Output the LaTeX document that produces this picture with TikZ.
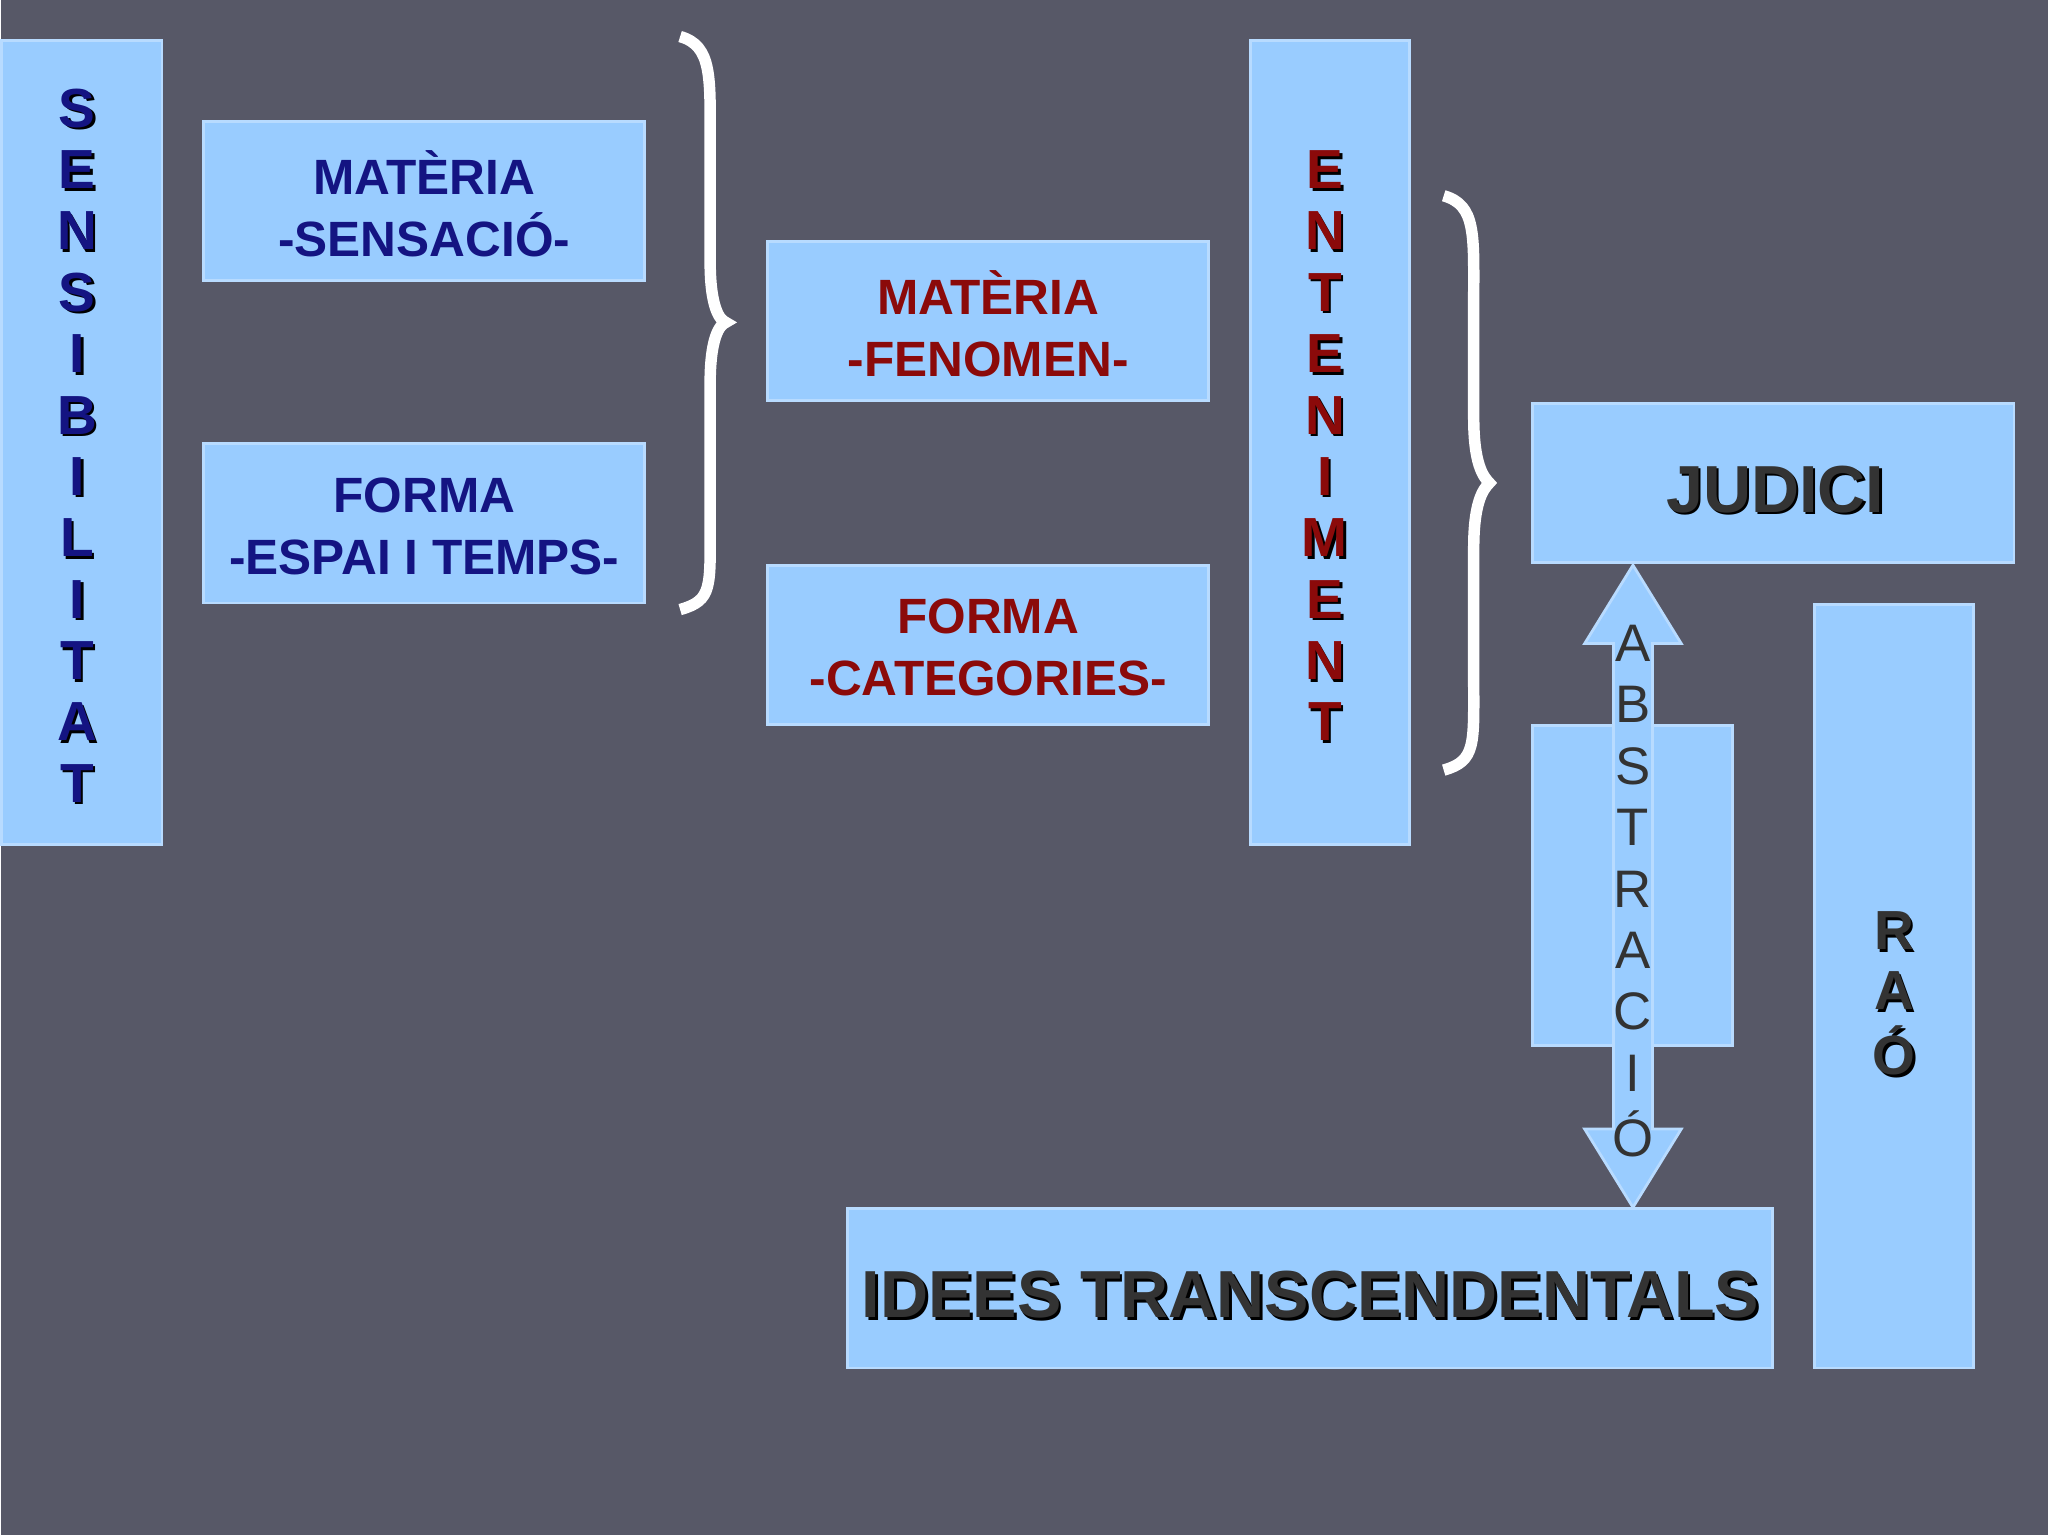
\documentclass[tikz,border=0pt]{standalone}
\usepackage{fontspec}
\setmainfont{Liberation Sans}
\usetikzlibrary{shapes.arrows}
\definecolor{bg}{HTML}{575867}
\definecolor{boxc}{HTML}{99CCFF}
\definecolor{dblue}{HTML}{141482}
\definecolor{dred}{HTML}{8B0A0A}
\definecolor{dgray}{HTML}{333333}
\tikzset{x=0.01cm,y=-0.01cm,
 bx/.style={fill=boxc,draw=boxc!70!white,line width=0.6pt},
 blt/.style={font=\bfseries\fontsize{10.8}{13.5}\selectfont,text=dblue,align=center,inner sep=0pt},
 rdt/.style={font=\bfseries\fontsize{10.8}{13.5}\selectfont,text=dred,align=center,inner sep=0pt},
 vl/.style={font=\bfseries\fontsize{12}{12}\selectfont},
 bigt/.style={font=\bfseries\fontsize{14.5}{14.5}\selectfont},
 brc/.style={draw=white,line width=2.5pt}}
\newcommand{\shletter}[4]{% x y color letter
 \node[vl,text=black] at (#1+2,#2+2) {#4};
 \node[vl,text=#3] at (#1,#2) {#4};}
\begin{document}
\begin{tikzpicture}
\fill[bg] (0,0) rectangle (1568,1176);
% Sensibilitat
\draw[bx] (0,31) rectangle (123,647);
\foreach \l [count=\i] in {S,E,N,S,I,B,I,L,I,T,A,T}
  {\shletter{58}{36+47*\i}{dblue}{\l}}
% boxes left
\draw[bx] (155,93) rectangle (493,215);
\node[blt] (ms) at (324,156) {MATÈRIA\\-SENSACIÓ-};
\draw[bx] (155,340) rectangle (493,462);
\node[blt] (fe) at (324,403) {FORMA\\-ESPAI I TEMPS-};
% brace 1
\draw[brc] (520,28) .. controls (545,35) and (543,60) .. (543,110) -- (543,200) .. controls (543,235) and (550,245) .. (555,247)
  .. controls (550,249) and (543,259) .. (543,294) -- (543,400) .. controls (543,450) and (545,460) .. (520,467);
\draw[bx] (587,185) rectangle (925,307);
\node[rdt] (mf) at (756,248) {MATÈRIA\\-FENOMEN-};
\draw[bx] (587,433) rectangle (925,555);
\node[rdt] (fc) at (756,496) {FORMA\\-CATEGORIES-};
% Enteniment
\draw[bx] (957,31) rectangle (1079,647);
\foreach \l [count=\i] in {E,N,T,E,N,I,M,E,N,T}
  {\shletter{1014}{83+47*\i}{dred}{\l}}
% brace 2
\draw[brc] (1105,150) .. controls (1130,157) and (1128,180) .. (1128,230) -- (1128,320) .. controls (1128,355) and (1135,365) .. (1140,370)
  .. controls (1135,375) and (1128,385) .. (1128,420) -- (1128,520) .. controls (1128,570) and (1130,583) .. (1105,590);
% Judici
\draw[bx] (1173,309) rectangle (1542,431);
\node[bigt,text=black] at (1361,377) {JUDICI};
\node[bigt,text=dgray] (jud) at (1359,375) {JUDICI};
% Rao
\draw[bx] (1389,463) rectangle (1511,1048);
\foreach \l [count=\i] in {R,A,Ó}
  {\shletter{1450}{667+46*\i}{dgray}{\l}}
% abstraccio box
\draw[bx] (1173,556) rectangle (1326,801);
% idees
\draw[bx] (648,926) rectangle (1357,1048);
\node[bigt,text=black] at (1005,994) {IDEES TRANSCENDENTALS};
\node[bigt,text=dgray] (id) at (1003,992) {IDEES TRANSCENDENTALS};
% double arrow
\draw[bx] (1250,433) -- (1287,493) -- (1265,493) -- (1265,865) -- (1287,865) -- (1250,925) -- (1213,865) -- (1235,865) -- (1235,493) -- (1213,493) -- cycle;
\foreach \l [count=\i] in {A,B,S,T,R,A,C,I,Ó}
  {\node[font=\fontsize{11.5}{11.5}\selectfont,text=dgray] at (1250,446+47*\i) {\l};}
\end{tikzpicture}
\end{document}
